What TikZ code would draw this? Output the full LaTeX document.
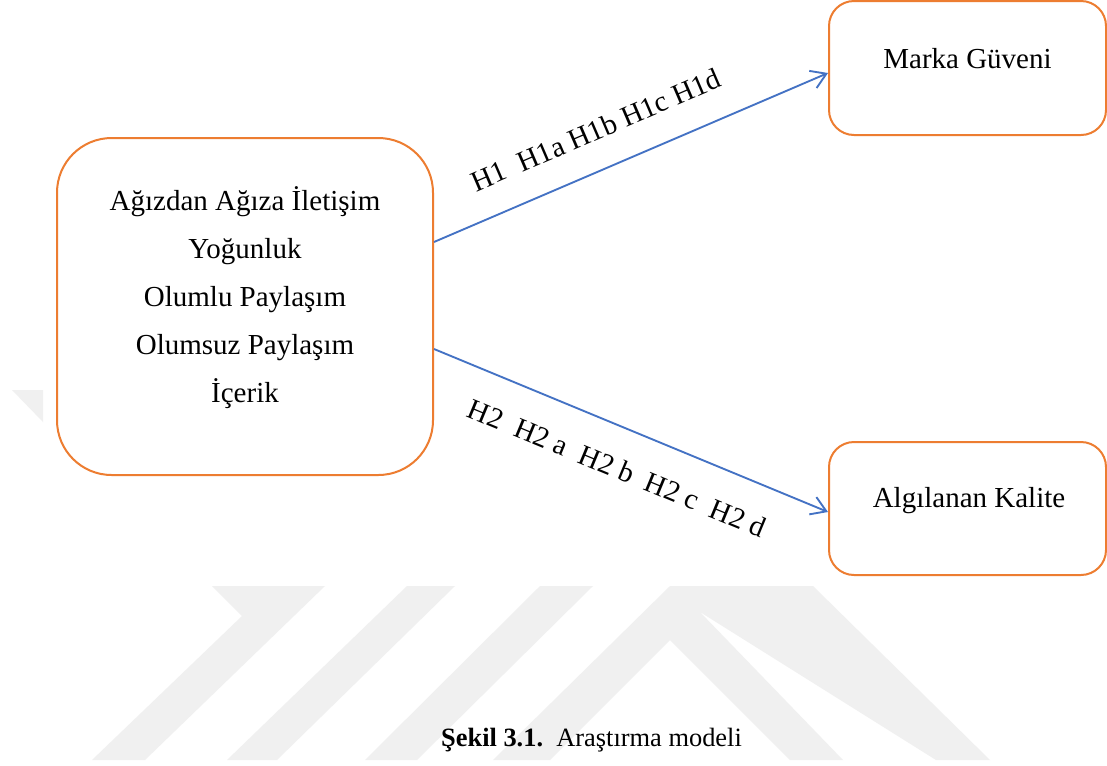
\documentclass[tikz,border=0pt]{standalone}
\usepackage{fontspec}
\setmainfont{Liberation Serif}
\usetikzlibrary{arrows.meta,calc}
\definecolor{boxorange}{HTML}{ED7D31}
\definecolor{arrblue}{HTML}{4472C4}
\definecolor{wmgray}{HTML}{F0F0F0}
\begin{document}
\begin{tikzpicture}[x=0.75pt,y=-0.75pt,
  box/.style={draw=boxorange, line width=1.5pt, fill=white, rectangle, inner sep=0pt},
  lbl/.style={font=\fontsize{21.75}{26}\selectfont},
  arr/.style={draw=arrblue, line width=1.4pt, -{Straight Barb[length=11pt,width=14pt,line width=1.4pt]}},
  wmark/.style={fill=wmgray, draw=none}]
\useasboundingbox (0,0) rectangle (1107,765);
\fill[white] (0,0) rectangle (1107,765);
% watermark
\fill[wmark] (12,390) -- (43,390) -- (43,422) -- cycle;
\fill[wmark] (212,586) -- (325,586) -- (145,760) -- (92,760) -- (242,616) -- cycle;
\fill[wmark] (407,586) -- (455,586) -- (277,760) -- (227,760) -- cycle;
\fill[wmark] (540,586) -- (593,586) -- (417,760) -- (365,760) -- cycle;
\fill[wmark] (493,760) -- (670,586) -- (813,586) -- (990,760) -- (936,760) -- (700,612) -- (843,760) -- (790,760) -- (670,640) -- (550,760) -- cycle;
% boxes
\node[box, minimum width=282pt, minimum height=252.75pt, rounded corners=41pt] (src) at (245,306.5) {};
\node[box, minimum width=207.75pt, minimum height=100.5pt, rounded corners=18.75pt] (mk) at (967.5,68) {};
\node[box, minimum width=207.75pt, minimum height=99.75pt, rounded corners=18.75pt] (ak) at (967.5,508.5) {};
% texts
\node[align=center, font=\fontsize{21.75}{36}\selectfont] (srct) at (245,298) {Ağızdan Ağıza İletişim\\Yoğunluk\\Olumlu Paylaşım\\Olumsuz Paylaşım\\İçerik};
\node[lbl, anchor=base] (mkt) at (967.5,68) {Marka Güveni};
\node[lbl, anchor=base] (akt) at (969,507) {Algılanan Kalite};
% arrows
\draw[arr] ($(src.east)+(0,-64.5)$) -- ($(mk.west)+(0,5)$);
\draw[arr] ($(src.east)+(0,42.5)$) -- ($(ak.west)+(0,3.5)$);
\node[lbl, rotate=23.3] (h1) at (596,130) {H1~~H1a H1b H1c H1d};
\node[lbl, rotate=-22.5] (h2) at (617,468) {H2~~H2 a~~H2 b~~H2 c~~H2 d};
% caption
\node[font=\fontsize{19.8}{23}\selectfont, anchor=base] (cap) at (591.5,746) {\textbf{Şekil 3.1.}~~Araştırma modeli};
\end{tikzpicture}
\end{document}
